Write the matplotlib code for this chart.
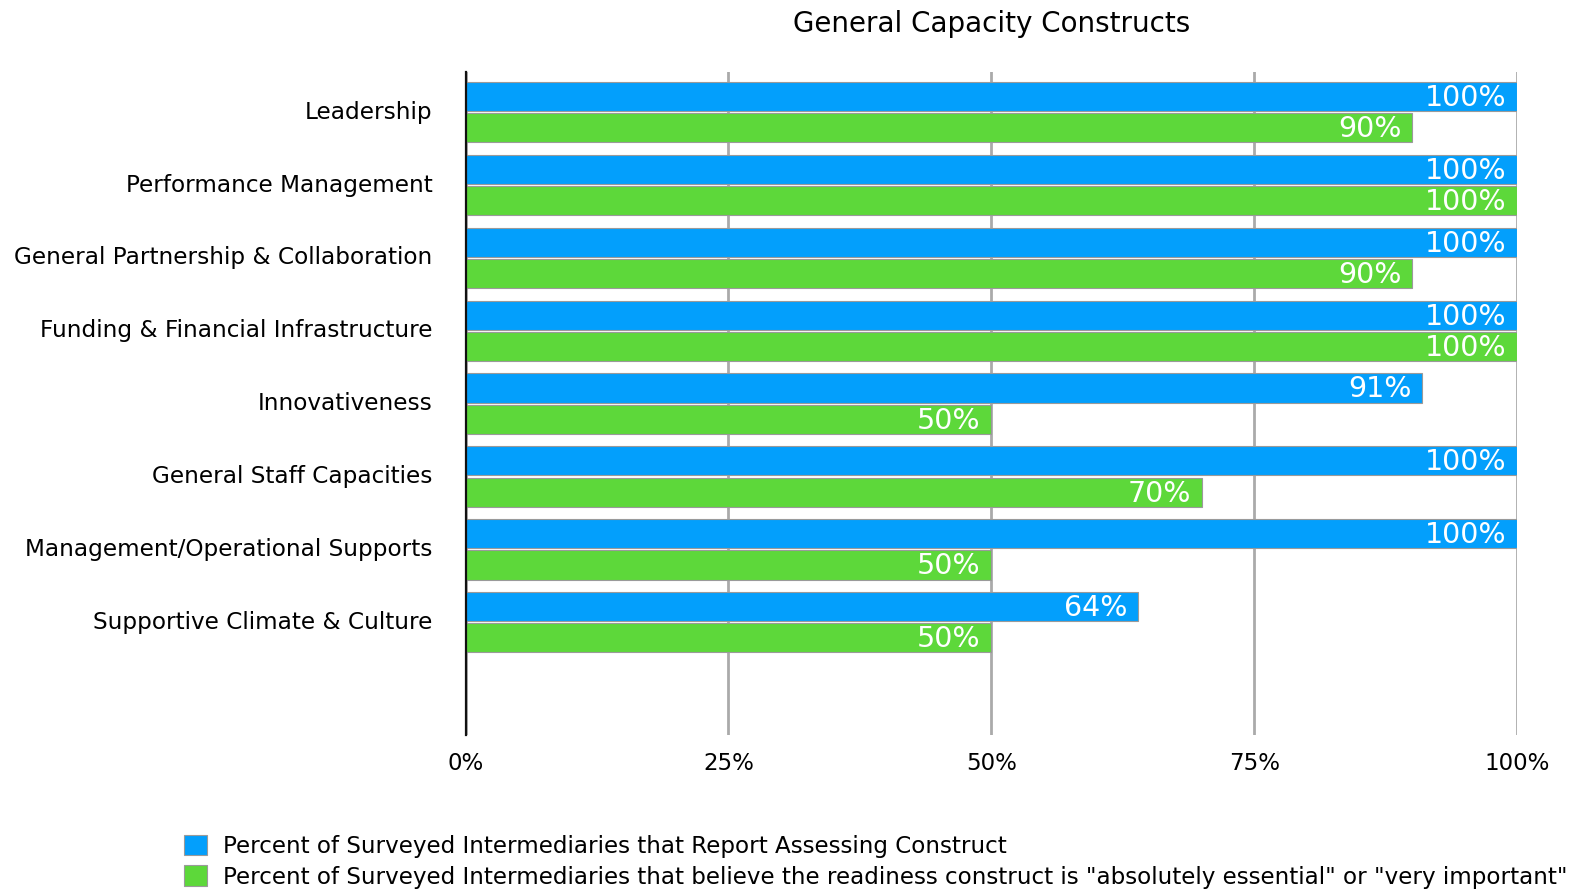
import numpy as np
import matplotlib.pyplot as plt

categories = [
    "Leadership",
    "Performance Management",
    "General Partnership & Collaboration",
    "Funding & Financial Infrastructure",
    "Innovativeness",
    "General Staff Capacities",
    "Management/Operational Supports",
    "Supportive Climate & Culture",
]
assessing = [100, 100, 100, 100, 91, 100, 100, 64]
essential = [90, 100, 90, 100, 50, 70, 50, 50]
series_names = [
    "Percent of Surveyed Intermediaries that Report Assessing Construct",
    "Percent of Surveyed Intermediaries that believe the readiness construct is \"absolutely essential\" or \"very important\"",
]
ticks = [0, 25, 50, 75, 100]

BLUE = "#039ffc"
GREEN = "#5dd83a"
plt.rcParams["font.family"] = ["DejaVu Sans"]

fig = plt.figure(figsize=(15.73, 8.90), dpi=100)
ax = fig.add_axes([0.296, 0.174, 0.6684, 0.745])

y = np.arange(len(categories))
h = 0.40
off = 0.215
b1 = ax.barh(y - off, assessing, height=h, color=BLUE, edgecolor="#9a9a9a", linewidth=0.8, zorder=3)
b2 = ax.barh(y + off, essential, height=h, color=GREEN, edgecolor="#9a9a9a", linewidth=0.8, zorder=3)

# white value labels inside the bar ends
for bars, vals in ((b1, assessing), (b2, essential)):
    for rect, v in zip(bars, vals):
        ax.text(v - 1.0, rect.get_y() + rect.get_height() / 2 + 0.02, f"{v}%",
                ha="right", va="center", color="white", fontsize=20.5, zorder=4)

ax.set_xlim(0, 100)
ax.set_ylim(8.55, -0.55)
ax.set_xticks(ticks)
ax.set_xticklabels([f"{t}%" for t in ticks], fontsize=16.5)
ax.set_yticks(y)
ax.set_yticklabels(categories, fontsize=16.7)
ax.tick_params(length=0)
ax.tick_params(axis="x", pad=12)
ax.tick_params(axis="y", pad=24)
for lab in ax.get_yticklabels():
    lab.set_va("center")

ax.grid(axis="x", color="#aaaaaa", linewidth=2.0, zorder=0)
ax.set_axisbelow(True)
for s in ("top", "right", "bottom"):
    ax.spines[s].set_visible(False)
ax.spines["left"].set_color("#111111")
ax.spines["left"].set_linewidth(1.6)
ax.spines["left"].set_zorder(5)

ax.set_title("General Capacity Constructs", fontsize=20, pad=29)

fig.legend([b1, b2], series_names, loc="upper left", bbox_to_anchor=(0.117, 0.062),
           frameon=False, fontsize=16.6, handlelength=1.0, handleheight=1.0,
           handletextpad=0.7, labelspacing=0.32, borderaxespad=0, borderpad=0)

fig.savefig("out.png", dpi=100)
